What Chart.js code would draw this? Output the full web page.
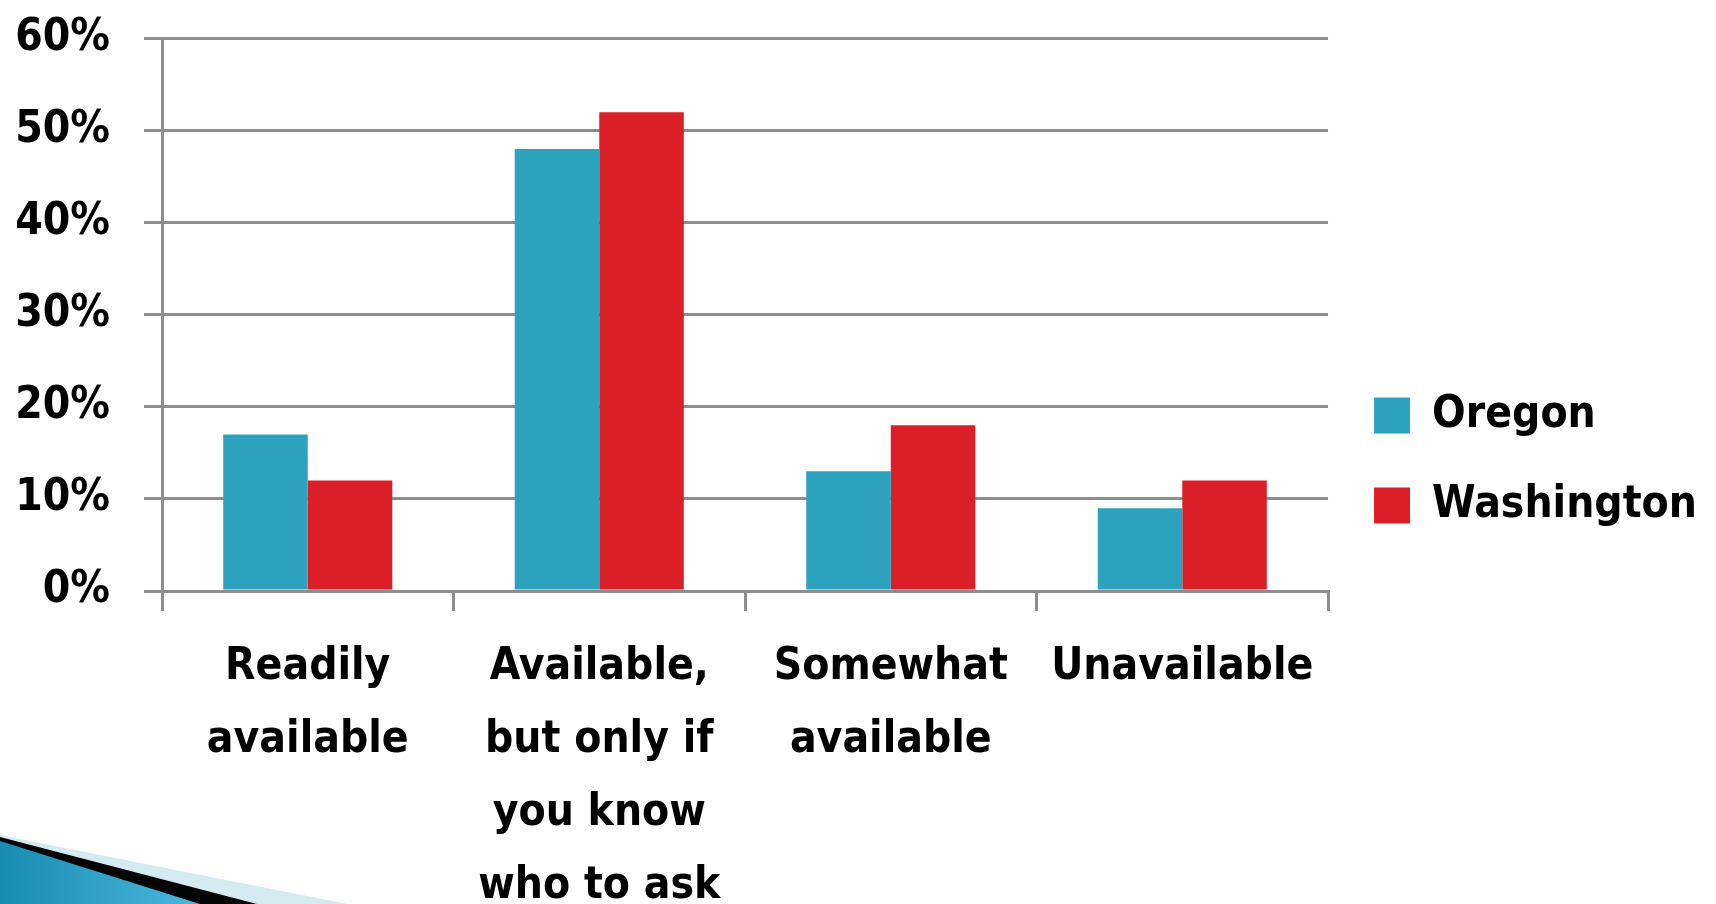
<!DOCTYPE html>
<html>
<head>
<meta charset="utf-8">
<script src="https://cdn.jsdelivr.net/npm/chart.js@4"></script>
<style>
  html, body { margin: 0; padding: 0; background: #fff; }
  #wrap { position: relative; width: 1716px; height: 904px; overflow: hidden; }
  #corner { position: absolute; left: 0; top: 0; }
  #chart { position: absolute; left: 0; top: 0; }
</style>
</head>
<body>
<div id="wrap">
  <!-- slide corner ornament -->
  <svg id="corner" width="1716" height="904">
    <defs>
      <linearGradient id="blueFill" x1="0" y1="0" x2="1" y2="0">
        <stop offset="0" stop-color="#188cb4"/>
        <stop offset="1" stop-color="#4ab7de"/>
      </linearGradient>
    </defs>
    <polygon points="0,835 347,904 0,904" fill="#d6eaf1"/>
    <polygon points="0,837 257,904 0,904" fill="#050505"/>
    <polygon points="0,841 200,904 0,904" fill="url(#blueFill)"/>
  </svg>
  <canvas id="chart" width="1716" height="904"></canvas>
</div>
<script>
// 数据
const categories = [
  ['Readily', 'available'],
  ['Available,', 'but only if', 'you know', 'who to ask'],
  ['Somewhat', 'available'],
  ['Unavailable']
];
const oregon = [17, 48, 13, 9];
const washington = [12, 52, 18, 12];
const yTicks = [0, 10, 20, 30, 40, 50, 60];

const labelFont = { family: '"DejaVu Sans Condensed", "DejaVu Sans", sans-serif', size: 44, weight: 'bold' };
const gridColor = '#8d8d8d';

const ctx = document.getElementById('chart').getContext('2d');
new Chart(ctx, {
  type: 'bar',
  data: {
    labels: categories,
    datasets: [
      { label: 'Oregon', data: oregon, backgroundColor: '#2ca2bf', borderWidth: 0 },
      { label: 'Washington', data: washington, backgroundColor: '#da1f29', borderWidth: 0 }
    ]
  },
  options: {
    responsive: false,
    animation: false,
    layout: { padding: { top: 17, right: 9, bottom: 0, left: 0 } },
    datasets: { bar: { categoryPercentage: 0.58, barPercentage: 1.0 } },
    plugins: {
      legend: {
        position: 'right',
        labels: {
          boxWidth: 36,
          boxHeight: 36,
          padding: 46,
          color: '#000',
          font: labelFont
        }
      },
      tooltip: { enabled: false }
    },
    scales: {
      x: {
        // 固定 x 轴高度，让图区底部落在 0% 线上
        afterFit: scale => { scale.height = 313; },
        grid: { drawOnChartArea: false, drawTicks: true, tickLength: 20, color: gridColor, lineWidth: 3, offset: true },
        border: { color: gridColor, width: 3 },
        ticks: {
          color: '#000',
          font: { ...labelFont, lineHeight: 1.66 },
          maxRotation: 0,
          autoSkip: false,
          padding: 20
        }
      },
      y: {
        min: 0,
        max: 60,
        afterFit: scale => {
          scale.width = 162;
          scale.paddingTop = 38.5;
        },
        afterBuildTicks: scale => { scale.ticks = yTicks.map(v => ({ value: v })); },
        grid: { color: gridColor, lineWidth: 3, tickLength: 18 },
        border: { color: gridColor, width: 3 },
        ticks: {
          color: '#000',
          font: labelFont,
          padding: 34,
          callback: v => v + '%'
        }
      }
    }
  }
});
</script>
</body>
</html>
